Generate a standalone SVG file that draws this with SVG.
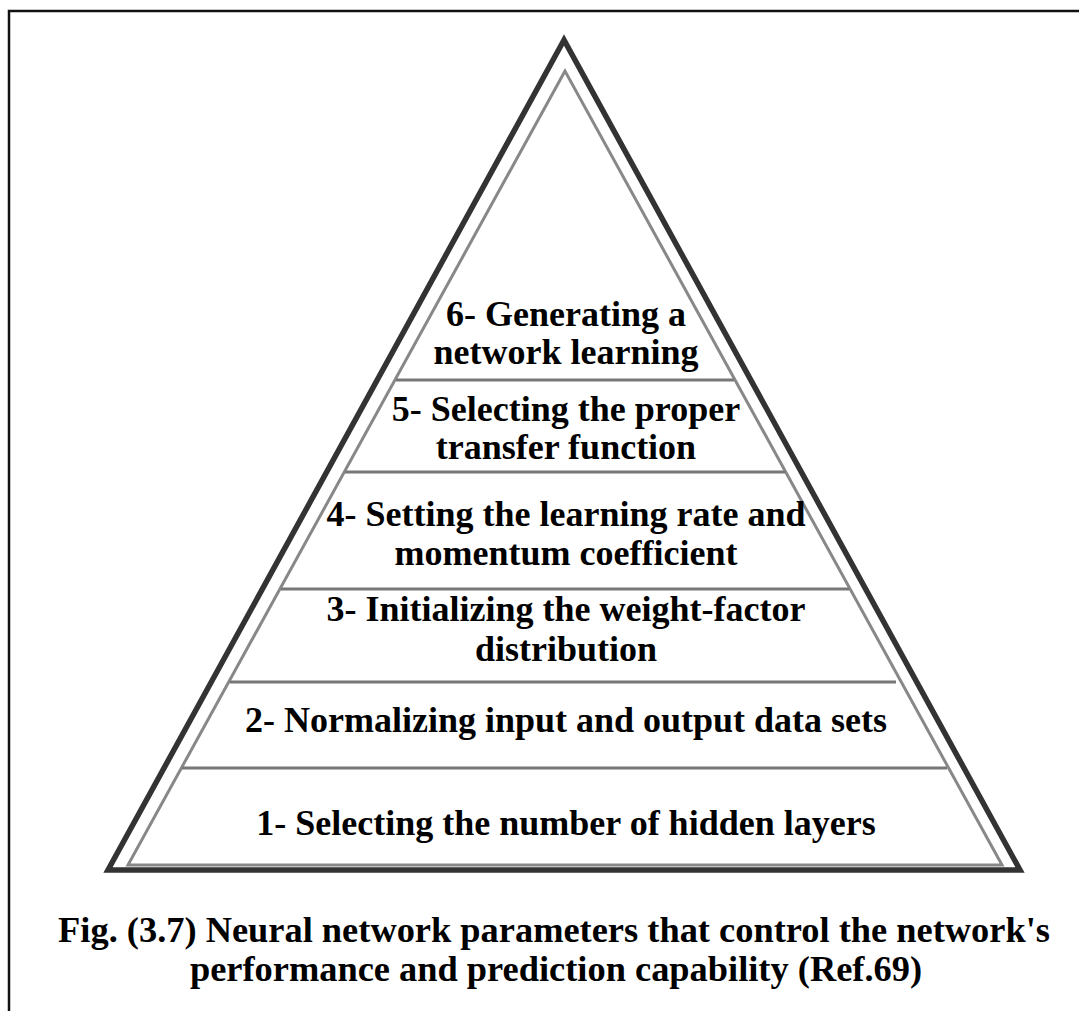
<svg xmlns="http://www.w3.org/2000/svg" width="1079" height="1011" viewBox="0 0 1079 1011">
  <style>
    .frame { fill: none; stroke: #111; stroke-width: 2.5; }
    .outer { fill: none; stroke: #333; stroke-width: 5.5; stroke-linejoin: miter; }
    .inner { fill: none; stroke: #888; stroke-width: 3; }
    .divider { stroke: #777; stroke-width: 3; }
    .label { font-family: "Liberation Serif", "Times New Roman", serif; font-weight: bold; font-size: 36px; fill: #000; text-anchor: middle; }
    .caption { font-family: "Liberation Serif", "Times New Roman", serif; font-weight: bold; font-size: 36.4px; fill: #000; text-anchor: middle; }
  </style>
  <rect x="0" y="0" width="1079" height="1011" fill="#fff"/>
  <!-- page frame: top and left edges -->
  <path class="frame" d="M9,1011 V11 H1079"/>

  <!-- pyramid outline: heavy outer edge with a lighter inset edge -->
  <g id="pyramid">
    <polygon class="outer" points="564,40 108,870 1020,870"/>
    <polygon class="inner" points="565,71 128,865 1002,865"/>
  </g>

  <!-- level separators -->
  <g id="connectors">
    <line class="divider" x1="396" y1="380" x2="734" y2="380"/>
    <line class="divider" x1="345" y1="472" x2="785" y2="472"/>
    <line class="divider" x1="281" y1="589" x2="849" y2="589"/>
    <line class="divider" x1="230" y1="682" x2="896" y2="682"/>
    <line class="divider" x1="182" y1="768" x2="947" y2="768"/>
  </g>

  <g id="level6">
    <text class="label" x="566" y="326">6- Generating a</text>
    <text class="label" x="566" y="364">network learning</text>
  </g>
  <g id="level5">
    <text class="label" x="566" y="421">5- Selecting the proper</text>
    <text class="label" x="566" y="459">transfer function</text>
  </g>
  <g id="level4">
    <text class="label" x="566" y="526">4- Setting the learning rate and</text>
    <text class="label" x="566" y="565">momentum coefficient</text>
  </g>
  <g id="level3">
    <text class="label" x="566" y="621">3- Initializing the weight-factor</text>
    <text class="label" x="566" y="661">distribution</text>
  </g>
  <g id="level2">
    <text class="label" x="566" y="732">2- Normalizing input and output data sets</text>
  </g>
  <g id="level1">
    <text class="label" x="566" y="835">1- Selecting the number of hidden layers</text>
  </g>

  <g id="caption">
    <text class="caption" x="554" y="942">Fig. (3.7) Neural network parameters that control the network's</text>
    <text class="caption" x="556" y="981">performance and prediction capability (Ref.69)</text>
  </g>
</svg>
